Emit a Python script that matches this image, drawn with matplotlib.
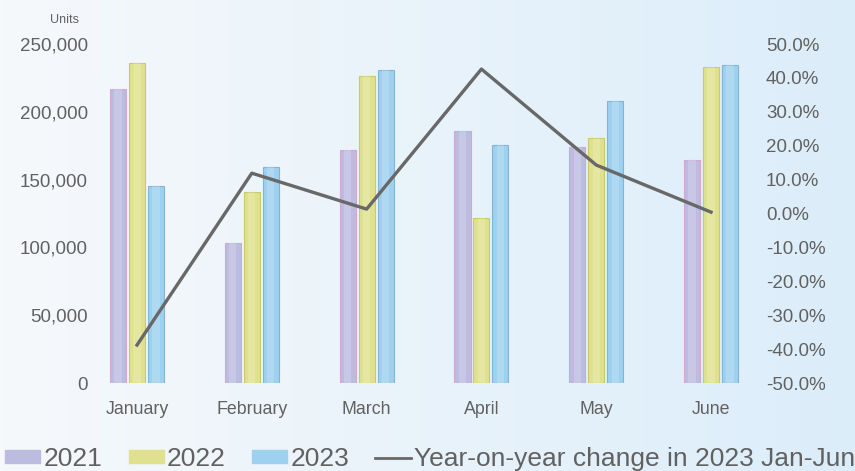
import numpy as np
import matplotlib
matplotlib.use("Agg")
import matplotlib.pyplot as plt
from matplotlib.patches import Patch
from matplotlib.lines import Line2D
from matplotlib.ticker import FuncFormatter

months = ["January", "February", "March", "April", "May", "June"]
units_2021 = [216800, 103200, 171800, 185800, 174000, 164500]
units_2022 = [236000, 140900, 226400, 121700, 180700, 233000]
units_2023 = [145300, 159300, 230800, 175500, 208000, 234500]
yoy_change = [-38.8, 11.9, 1.3, 42.6, 14.3, 0.4]

text_color = "#616161"
plt.rcParams["font.family"] = ["Liberation Sans", "DejaVu Sans"]

fig = plt.figure(figsize=(8.55, 4.71), dpi=100)

# background gradient, whitish on the left to pale blue on the right
bg = fig.add_axes([0, 0, 1, 1], zorder=-10)
xs = np.linspace(0, 1, 256)
grad = np.zeros((2, 256, 3))
left_c = np.array([0.965, 0.975, 0.985])
right_c = np.array([0.86, 0.93, 0.98])
for i, t in enumerate(xs):
    grad[:, i] = left_c * (1 - t) + right_c * t
bg.imshow(grad, aspect="auto", extent=[0, 1, 0, 1])
bg.axis("off")

x0, x1 = 95 / 855, 755 / 855
ax = fig.add_axes([x0, 1 - 383 / 471, x1 - x0, (383 - 44) / 471])
ax.patch.set_alpha(0)

x = np.arange(len(months))
w = 0.14
off = 0.165
series = [
    (units_2021, "#bcbbe0", "#cfa9d2", "2021"),
    (units_2022, "#dfe18e", "#c9cb6a", "2022"),
    (units_2023, "#9ed1ef", "#7fb6d8", "2023"),
]
for k, (vals, fc, ec, lab) in enumerate(series):
    ax.bar(x + (k - 1) * off, vals, width=w, color=fc, edgecolor=ec, linewidth=0.8)
    # lighter strip in the middle of each bar
    ax.bar(x + (k - 1) * off, vals, width=w * 0.45, color="white", alpha=0.18, linewidth=0)

ax.set_xlim(-0.366, 5.383)
ax.set_ylim(0, 250000)
ax.set_yticks(range(0, 250001, 50000))
ax.yaxis.set_major_formatter(FuncFormatter(lambda v, p: f"{int(v):,}"))
ax.set_xticks(x)
ax.set_xticklabels(months)
ax.tick_params(axis="both", length=0, labelsize=13.5, colors=text_color)
ax.tick_params(axis="y", pad=5)
ax.tick_params(axis="x", pad=13, labelsize=12.8)
for s in ax.spines.values():
    s.set_visible(False)

ax2 = ax.twinx()
ax2.plot(x, yoy_change, color="#686868", linewidth=2.4)
ax2.set_ylim(-50, 50)
ax2.set_yticks(range(-50, 51, 10))
ax2.yaxis.set_major_formatter(FuncFormatter(lambda v, p: f"{v:.1f}%"))
ax2.tick_params(axis="y", length=0, labelsize=13.5, colors=text_color, pad=8)
for s in ax2.spines.values():
    s.set_visible(False)

fig.text(64 / 855, 1 - 20 / 471, "Units", ha="center", va="center",
         fontsize=9, color=text_color)

handles = [Patch(color="#bcbbe0"), Patch(color="#dfe18e"), Patch(color="#9ed1ef"),
           Line2D([], [], color="#686868", linewidth=2)]
labels = ["2021", "2022", "2023", "Year-on-year change in 2023 Jan-Jun"]
fig.legend(handles, labels, loc="center", bbox_to_anchor=(430 / 855, 1 - 459 / 471),
           ncol=4, frameon=False, fontsize=19, labelcolor=text_color,
           handlelength=1.33, handleheight=0.35, handletextpad=0.12,
           columnspacing=1.0, borderpad=0, borderaxespad=0)

fig.savefig("out.png", dpi=100)
